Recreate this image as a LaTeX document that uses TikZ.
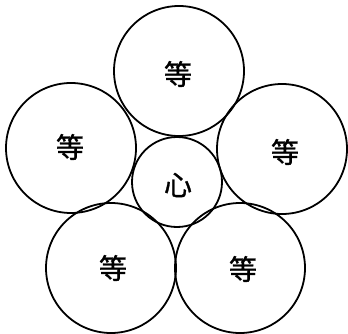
\documentclass[tikz,border=0pt]{standalone}
\usepackage{fontspec}
\newfontfamily\cjk[FakeBold=1.2]{Noto Sans CJK SC}
\begin{document}
\begin{tikzpicture}[x=1pt,y=-1pt,
  ring/.style={draw=black,line width=1.8pt},
  lbl/.style={font=\cjk\fontsize{28}{28}\selectfont,inner sep=0pt}]
\useasboundingbox (0,0) rectangle (348,334);
\fill[white] (0,0) rectangle (348,334);
\draw[ring] (179,71) circle[radius=65];
\draw[ring] (71,148) circle[radius=65];
\draw[ring] (282,149) circle[radius=65];
\draw[ring] (111,268) circle[radius=65];
\draw[ring] (240,268) circle[radius=65];
\draw[ring] (177,182) circle[radius=45];
\node[lbl] (t) at (178,74) {等};
\node[lbl] (l) at (70,147) {等};
\node[lbl] (r) at (285,152) {等};
\node[lbl] (bl) at (113,268) {等};
\node[lbl] (br) at (243,269) {等};
\node[lbl] (c) at (178,185) {心};
\end{tikzpicture}
\end{document}
